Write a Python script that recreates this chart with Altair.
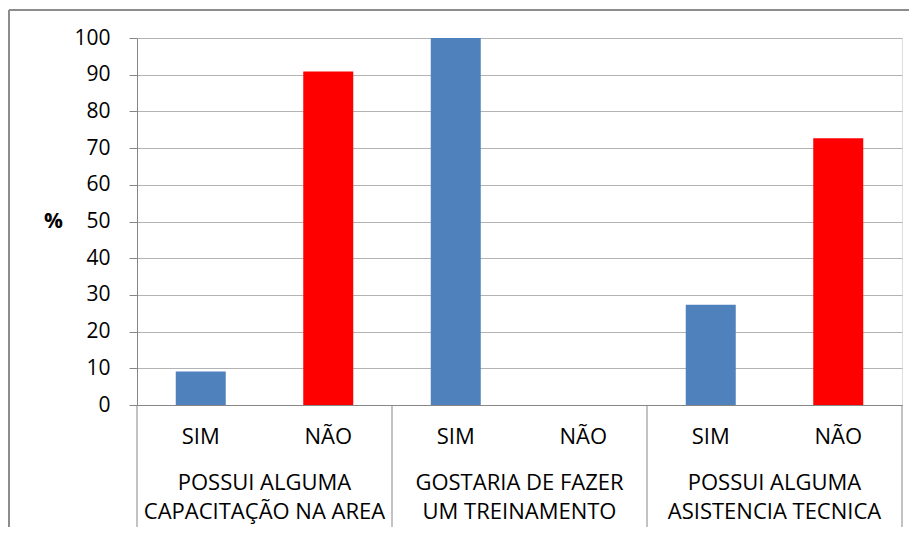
import altair as alt
import pandas as pd

groups_l1 = ["POSSUI ALGUMA", "GOSTARIA DE FAZER", "POSSUI ALGUMA"]
groups_l2 = ["CAPACITAÇÃO NA AREA", "UM TREINAMENTO", "ASISTENCIA TECNICA"]
answers = ["SIM", "NÃO"]
values = [9.1, 90.9, 100, 0, 27.3, 72.7]
colors = ["#4F81BD", "#FF0000"]
y_ticks = list(range(0, 101, 10))

rows = []
for gi in range(len(groups_l1)):
    for ai, a in enumerate(answers):
        rows.append(dict(key=f"{gi}-{ai}", group=gi, answer=a,
                         value=values[gi * 2 + ai], l1=groups_l1[gi],
                         l2=groups_l2[gi], slot=ai))
df = pd.DataFrame(rows)
keys = list(df["key"])
last_key = keys[-1]

W, H = 765, 367
FONT = "Open Sans"
FS = 21
SS = 22
GS = 22
GRAY = "#868686"

xs = alt.Scale(domain=keys, paddingInner=0, paddingOuter=0)
base = alt.Chart(df)

bars = base.mark_bar(width=50).encode(
    x=alt.X("key:N", scale=xs,
            axis=alt.Axis(labels=False, ticks=False, title=None, grid=False,
                          domainColor=GRAY, domainWidth=1)),
    y=alt.Y("value:Q", scale=alt.Scale(domain=[0, 100], nice=False),
            axis=alt.Axis(values=y_ticks, title="%", titleAngle=0,
                          titleX=-84, titleY=183, titleAlign="center",
                          titleBaseline="middle", titleFont=FONT,
                          titleFontSize=FS, titleFontWeight="bold",
                          titleColor="black", labelFont=FONT,
                          labelFontSize=FS, labelColor="black",
                          labelPadding=19, tickSize=8, tickColor=GRAY,
                          domainColor=GRAY, gridColor="#b3b3b3")),
    color=alt.Color("answer:N", scale=alt.Scale(domain=answers, range=colors),
                    legend=None),
)

sep = base.transform_filter(alt.datum.slot == 0).mark_rule(
    color=GRAY, strokeWidth=1).encode(
    x=alt.X("key:N", scale=xs, bandPosition=0),
    y=alt.value(H), y2=alt.value(H + 125))

sep_end = base.transform_filter(alt.datum.key == last_key).mark_rule(
    color=GRAY, strokeWidth=1).encode(
    x=alt.X("key:N", scale=xs, bandPosition=1),
    y=alt.value(H), y2=alt.value(H + 125))

sub = base.mark_text(font=FONT, fontSize=SS, color="black",
                     baseline="middle").encode(
    x=alt.X("key:N", scale=xs), y=alt.value(H + 32), text="answer:N")

grp1 = base.transform_filter(alt.datum.slot == 1).mark_text(
    font=FONT, fontSize=GS, color="black", baseline="middle").encode(
    x=alt.X("key:N", scale=xs, bandPosition=0), y=alt.value(H + 78),
    text="l1:N")

grp2 = base.transform_filter(alt.datum.slot == 1).mark_text(
    font=FONT, fontSize=GS, color="black", baseline="middle").encode(
    x=alt.X("key:N", scale=xs, bandPosition=0), y=alt.value(H + 107),
    text="l2:N")

frame_df = pd.DataFrame({"k": [0]})
frame_top = alt.Chart(frame_df).mark_rule(color="#8c8c8c", strokeWidth=2).encode(
    x=alt.value(-128), x2=alt.value(W + 10), y=alt.value(-28))
frame_left = alt.Chart(frame_df).mark_rule(color="#8c8c8c", strokeWidth=2).encode(
    x=alt.value(-128), y=alt.value(-28), y2=alt.value(H + 140))

chart = alt.layer(bars, sep, sep_end, sub, grp1, grp2, frame_top, frame_left).properties(
    width=W, height=H,
    padding={"left": 129, "top": 30, "right": 7, "bottom": 122},
    autosize=alt.AutoSizeParams(type="none"),
).configure_view(stroke=None).configure(background="white")

chart.save("out.html", embed_options={"renderer": "svg", "actions": False})
